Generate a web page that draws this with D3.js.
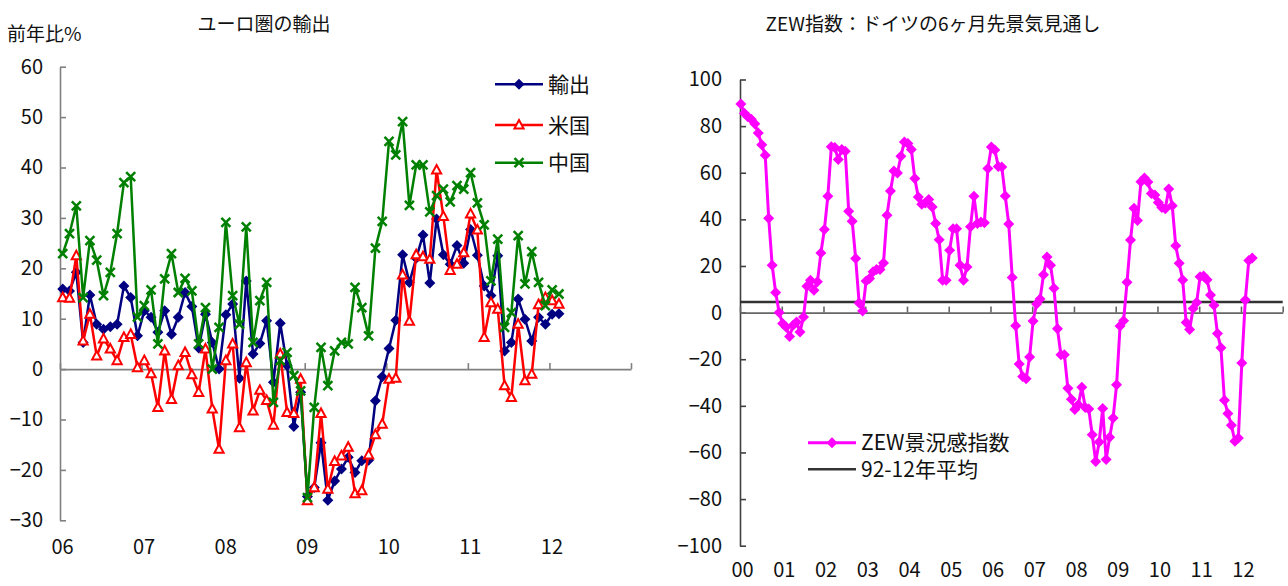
<!DOCTYPE html>
<html>
<head>
<meta charset="utf-8">
<script src="https://cdn.jsdelivr.net/npm/d3@7"></script>
<style>
  body { margin: 0; background: #fff; }
  svg text { font-family: "Noto Sans CJK JP", "Noto Sans", sans-serif; fill: #111; }
</style>
</head>
<body>
<svg id="chart" width="1288" height="586"></svg>
<script>
// ---- data: euro area exports, % y/y, monthly from Jan 2006
var euYears = ['06', '07', '08', '09', '10', '11', '12'];
var euTicks = [-30, -20, -10, 0, 10, 20, 30, 40, 50, 60];
var exportsTotal = [15.9, 15.5, 19.2, 5.3, 14.7, 8.9, 7.9, 8.4, 8.9, 16.5, 14.2, 6.6,
  11.6, 10.3, 7.3, 11.6, 6.9, 10.3, 15.2, 12.4, 4.2, 10.9, 5.3, 0,
  10.8, 12.9, -1.8, 17.5, 3, 5.1, 9.6, -2.6, 9.1, 0.7, -11.4, -4.6,
  -25.3, -23.5, -14.6, -26, -22.2, -19.8, -17.5, -20.5, -18.2, -18.1, -6.3, -1.5,
  4.1, 9.7, 22.7, 17.2, 22, 26.6, 17.1, 29.8, 22.7, 20.8, 24.5, 21,
  27.7, 22.6, 16.5, 14.6, 22.5, 3.6, 5.3, 13.9, 9.9, 5.6, 10.3, 8.9,
  10.9, 11];
var exportsUS = [14.2, 14.1, 22.5, 5.6, 10.9, 2.6, 6, 4, 1.7, 6.3, 6.9, 0.3,
  1.7, -0.9, -7.6, 3.6, -6, 0.7, 3.3, -1.1, -4.6, 4, -7.9, -15.9,
  1.7, 5, -11.6, 1.3, -8.3, -4.2, -6.2, -11.1, 3, -8.6, -8.8, -2,
  -26.1, -23.5, -8.8, -23.8, -18.3, -17.2, -15.5, -24.7, -24.1, -17, -13, -10.9,
  -2, -1.8, 18.7, 9.5, 22.7, 22.3, 21.8, 39.5, 30.3, 19.6, 20.8, 23.1,
  30.8, 27.6, 6.3, 13.2, 11.9, -3.3, -5.6, 8.9, -2.3, -1, 12.8, 14.2,
  13.6, 12.9];
var exportsChina = [22.9, 26.9, 32.4, 14.2, 25.5, 21.6, 14.6, 19.2, 26.9, 37, 38.2, 10.3,
  12.6, 15.7, 5, 17.9, 22.9, 15.2, 18, 15.5, 5, 12.2, 0, 8.3,
  29.1, 14.6, 8.9, 28.2, 5.3, 13.6, 17.2, -6.6, 1.7, 3.3, -1.3, -4.3,
  -25.5, -7.6, 4.3, -3.3, 3.6, 5.3, 5, 16.2, 12.2, 6.6, 24, 29.3,
  45.2, 42.5, 49.1, 32.5, 40.5, 40.5, 31.2, 34.4, 35.7, 33.2, 36.4, 35.7,
  39, 33, 28.6, 17.5, 25.8, 8.3, 11.2, 26.5, 16.9, 23.3, 17.2, 12.6,
  15.7, 14.9];

// ---- data: ZEW economic sentiment (Germany), monthly from Jan 2000
var zewYears = ['00', '01', '02', '03', '04', '05', '06', '07', '08', '09', '10', '11', '12'];
var zewTicks = [-100, -80, -60, -40, -20, 0, 20, 40, 60, 80, 100];
var zewIndex = [89.5, 85.5, 84, 83, 81, 77, 72, 67.5, 40.5, 20.3, 8.6, 0,
  -4.7, -6.2, -10.2, -5.4, -4, -8.3, -1.9, 11.3, 13.9, 9.6, 13.2, 25.6,
  35.6, 49.9, 71.1, 70.8, 65.7, 70, 69.2, 43.5, 39.2, 23.2, 4.1, 0.7,
  13.6, 14.6, 17.5, 18.5, 18.5, 21.3, 41.8, 52.2, 60.8, 59.9, 67.1, 73.2,
  72.5, 70, 57.5, 49.6, 46.5, 47, 48.5, 45.3, 38.2, 31.3, 13.9, 13.9,
  26.8, 36, 36, 20.3, 13.9, 19.6, 36.8, 49.9, 38.2, 38.9, 38.5, 61.8,
  71, 69.8, 62.7, 62.5, 50, 38, 15.1, -5.6, -22.1, -27.4, -28.4, -19,
  -3.6, 3.7, 5.8, 16.2, 23.9, 20.3, 10.4, -6.9, -18.1, -18.1, -32.5, -37.2,
  -41.6, -39.5, -32, -40.7, -41.4, -52.4, -63.9, -55.5, -41.1, -63, -53.5, -45.2,
  -31, -5.8, -3.5, 13, 31.1, 44.8, 39.5, 56.1, 57.7, 56, 51.1, 50.4,
  47.2, 45.1, 44.5, 53, 45.8, 28.7, 21.2, 14, -4.3, -7.2, 1.8, 4.3,
  15.4, 15.7, 14.1, 7.6, 3.1, -9, -15.1, -37.6, -43.3, -48.3, -55.2, -53.8,
  -21.6, 5.4, 22.3, 23.4];
var zewAverage = 4.5;

var svg = d3.select('#chart');
var fmt = d3.format('');

var diamond = 'M0,-5.5L5.5,0L0,5.5L-5.5,0Z';
var triangle = 'M0,-5L4.6,3.6L-4.6,3.6Z';
var cross = 'M-4.5,-4.5L4.5,4.5M-4.5,4.5L4.5,-4.5';

function drawSeries(g, data, x, y, off, color, shape, width) {
  var line = d3.line().x(function(d, i) { return x(i + off); }).y(function(d) { return y(d); });
  g.append('path').datum(data).attr('d', line)
    .attr('fill', 'none').attr('stroke', color).attr('stroke-width', width).attr('stroke-linejoin', 'round');
  var m = g.append('g').selectAll('path').data(data).enter().append('path')
    .attr('transform', function(d, i) { return 'translate(' + x(i + off) + ',' + y(d) + ')'; });
  if (shape == 'diamond') m.attr('d', diamond).attr('fill', color);
  if (shape == 'triangle') m.attr('d', triangle).attr('fill', '#fff').attr('stroke', color).attr('stroke-width', 2);
  if (shape == 'cross') m.attr('d', cross).attr('fill', 'none').attr('stroke', color).attr('stroke-width', 2.5);
}

function legendItem(g, x0, x1, y, color, shape, label, width) {
  g.append('line').attr('x1', x0).attr('x2', x1).attr('y1', y).attr('y2', y)
    .attr('stroke', color).attr('stroke-width', width);
  var cx = (x0 + x1) / 2;
  if (shape == 'diamond') g.append('path').attr('d', diamond).attr('fill', color).attr('transform', 'translate(' + cx + ',' + y + ')');
  if (shape == 'triangle') g.append('path').attr('d', triangle).attr('fill', '#fff').attr('stroke', color).attr('stroke-width', 2).attr('transform', 'translate(' + cx + ',' + y + ')');
  if (shape == 'cross') g.append('path').attr('d', cross).attr('fill', 'none').attr('stroke', color).attr('stroke-width', 2.5).attr('transform', 'translate(' + cx + ',' + y + ')');
  g.append('text').attr('x', x1 + 5).attr('y', y).attr('dy', '0.36em').attr('font-size', 21).text(label);
}

// ================= left chart =================
var nL = euYears.length;          // 06..12 labelled, axis runs to 13
var xL = d3.scaleLinear().domain([0, nL * 12]).range([60, 631]);
var xLy = d3.scaleLinear().domain([0, nL]).range([60, 631]);
var yL = d3.scaleLinear().domain([-30, 60]).range([520.3, 66.7]);
var left = svg.append('g');

left.append('text').attr('x', 264).attr('y', 31).attr('text-anchor', 'middle').attr('font-size', 19).text('ユーロ圏の輸出');
left.append('text').attr('x', 7).attr('y', 41).attr('font-size', 19).text('前年比%');

var ayL = left.append('g').attr('transform', 'translate(60,0)')
  .call(d3.axisLeft(yL).tickValues(euTicks).tickSizeInner(-6).tickSizeOuter(0).tickPadding(17).tickFormat(fmt));
ayL.selectAll('path,line').attr('stroke', '#808080').attr('stroke-width', 1.6);
ayL.selectAll('text').attr('font-size', 20).style('font-family', '"Noto Sans CJK JP", sans-serif');

var axL = left.append('g').attr('transform', 'translate(0,' + yL(0) + ')')
  .call(d3.axisBottom(xLy).tickValues(d3.range(nL + 1)).tickSizeInner(-6).tickSizeOuter(0).tickFormat(''));
axL.selectAll('path,line').attr('stroke', '#808080').attr('stroke-width', 1.6);

var lbL = left.append('g').attr('transform', 'translate(2,530)')
  .call(d3.axisBottom(xLy).tickValues(d3.range(nL)).tickSize(0).tickPadding(10)
    .tickFormat(function(d) { return euYears[d]; }));
lbL.select('.domain').remove();
lbL.selectAll('text').attr('font-size', 20).style('font-family', '"Noto Sans CJK JP", sans-serif');

var sL = left.append('g');
drawSeries(sL, exportsTotal, xL, yL, 0.4, '#000080', 'diamond', 2.5);
drawSeries(sL, exportsUS, xL, yL, 0.4, '#ff0000', 'triangle', 2.5);
drawSeries(sL, exportsChina, xL, yL, 0.4, '#008000', 'cross', 2.5);

var lgL = left.append('g');
legendItem(lgL, 495, 543, 84.3, '#000080', 'diamond', '輸出', 2.5);
legendItem(lgL, 495, 543, 125, '#ff0000', 'triangle', '米国', 2.5);
legendItem(lgL, 495, 543, 162.7, '#008000', 'cross', '中国', 2.5);

// ================= right chart =================
var nR = zewYears.length;         // 00..12 labelled, axis runs to 13
var xR = d3.scaleLinear().domain([0, nR * 12]).range([740, 1282.7]);
var xRy = d3.scaleLinear().domain([0, nR]).range([740, 1282.7]);
var yR = d3.scaleLinear().domain([-100, 100]).range([545.7, 79.5]);
var right = svg.append('g');

right.append('text').attr('x', 933).attr('y', 31).attr('text-anchor', 'middle').attr('font-size', 19)
  .text('ZEW指数：ドイツの6ヶ月先景気見通し');

var ayR = right.append('g').attr('transform', 'translate(740,0)')
  .call(d3.axisLeft(yR).tickValues(zewTicks).tickSizeInner(-6).tickSizeOuter(0).tickPadding(18).tickFormat(fmt));
ayR.selectAll('path,line').attr('stroke', '#404040').attr('stroke-width', 1.6);
ayR.selectAll('text').attr('font-size', 20).style('font-family', '"Noto Sans CJK JP", sans-serif');

var axR = right.append('g').attr('transform', 'translate(0,' + yR(0) + ')')
  .call(d3.axisBottom(xRy).tickValues(d3.range(nR + 1)).tickSizeInner(-6).tickSizeOuter(0).tickFormat(''));
axR.selectAll('path,line').attr('stroke', '#666').attr('stroke-width', 1.6);

var lbR = right.append('g').attr('transform', 'translate(2,555)')
  .call(d3.axisBottom(xRy).tickValues(d3.range(nR)).tickSize(0).tickPadding(8)
    .tickFormat(function(d) { return zewYears[d]; }));
lbR.select('.domain').remove();
lbR.selectAll('text').attr('font-size', 20).style('font-family', '"Noto Sans CJK JP", sans-serif');

right.append('line').attr('x1', xR(0)).attr('x2', xR(nR * 12))
  .attr('y1', yR(zewAverage)).attr('y2', yR(zewAverage)).attr('stroke', '#333').attr('stroke-width', 2.5);

drawSeries(right.append('g'), zewIndex, xR, yR, 0.25, '#ff00ff', 'diamond', 3);

var lgR = right.append('g');
legendItem(lgR, 808, 856, 442.7, '#ff00ff', 'diamond', 'ZEW景況感指数', 3);
legendItem(lgR, 808, 856, 469.3, '#333', 'none', '92-12年平均', 2.5);
</script>
</body>
</html>
